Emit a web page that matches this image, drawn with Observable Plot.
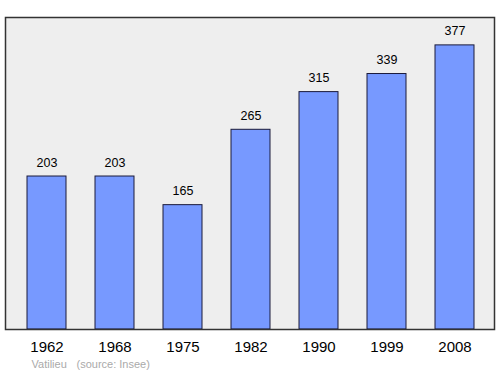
<!DOCTYPE html>
<html><head><meta charset="utf-8">
<script src="https://cdn.jsdelivr.net/npm/d3@7"></script>
<script src="https://cdn.jsdelivr.net/npm/@observablehq/plot@0.6"></script>
<style>body{margin:0;background:#fff;font-family:"Liberation Sans",Arial,sans-serif;}</style>
</head><body><div id="chart"></div>
<script>
const years = ["1962","1968","1975","1982","1990","1999","2008"];
const population = [203, 203, 165, 265, 315, 339, 377];
const place = "Vatilieu";
const source = "(source: Insee)";
const data = years.map((y, i) => ({year: y, pop: population[i]}));

const chart = Plot.plot({
  width: 500, height: 374,
  marginLeft: 5, marginRight: 6, marginTop: 17, marginBottom: 45,
  style: {fontFamily: "'Liberation Sans', Arial, sans-serif", background: "#fff"},
  x: {domain: years, paddingInner: 0.43, paddingOuter: 0.22, insetLeft: 6, insetRight: 5, label: null},
  y: {domain: [0, 414], label: null, axis: null},
  marks: [
    Plot.frame({fill: "#eeeeee", stroke: "none"}),
    Plot.barY(data, {x: "year", y: "pop", fill: "#7799ff", stroke: "#1a1a3a", strokeWidth: 1}),
    Plot.text(data, {x: "year", y: "pop", text: d => String(d.pop), dy: -14, fontSize: 12.5, fill: "#000"}),
    Plot.frame({stroke: "#333", strokeWidth: 1.5}),
    Plot.axisX({tickSize: 0, tickPadding: 12, fontSize: 15, fill: "#000"}),
    Plot.text([place], {frameAnchor: "bottom-left", dx: 26, dy: 38, text: d => d, fill: "#aaa", fontSize: 11, textAnchor: "start"}),
    Plot.text([source], {frameAnchor: "bottom-left", dx: 71, dy: 38, text: d => d, fill: "#aaa", fontSize: 11, textAnchor: "start"})
  ]
});
document.getElementById("chart").appendChild(chart);
</script></body></html>
